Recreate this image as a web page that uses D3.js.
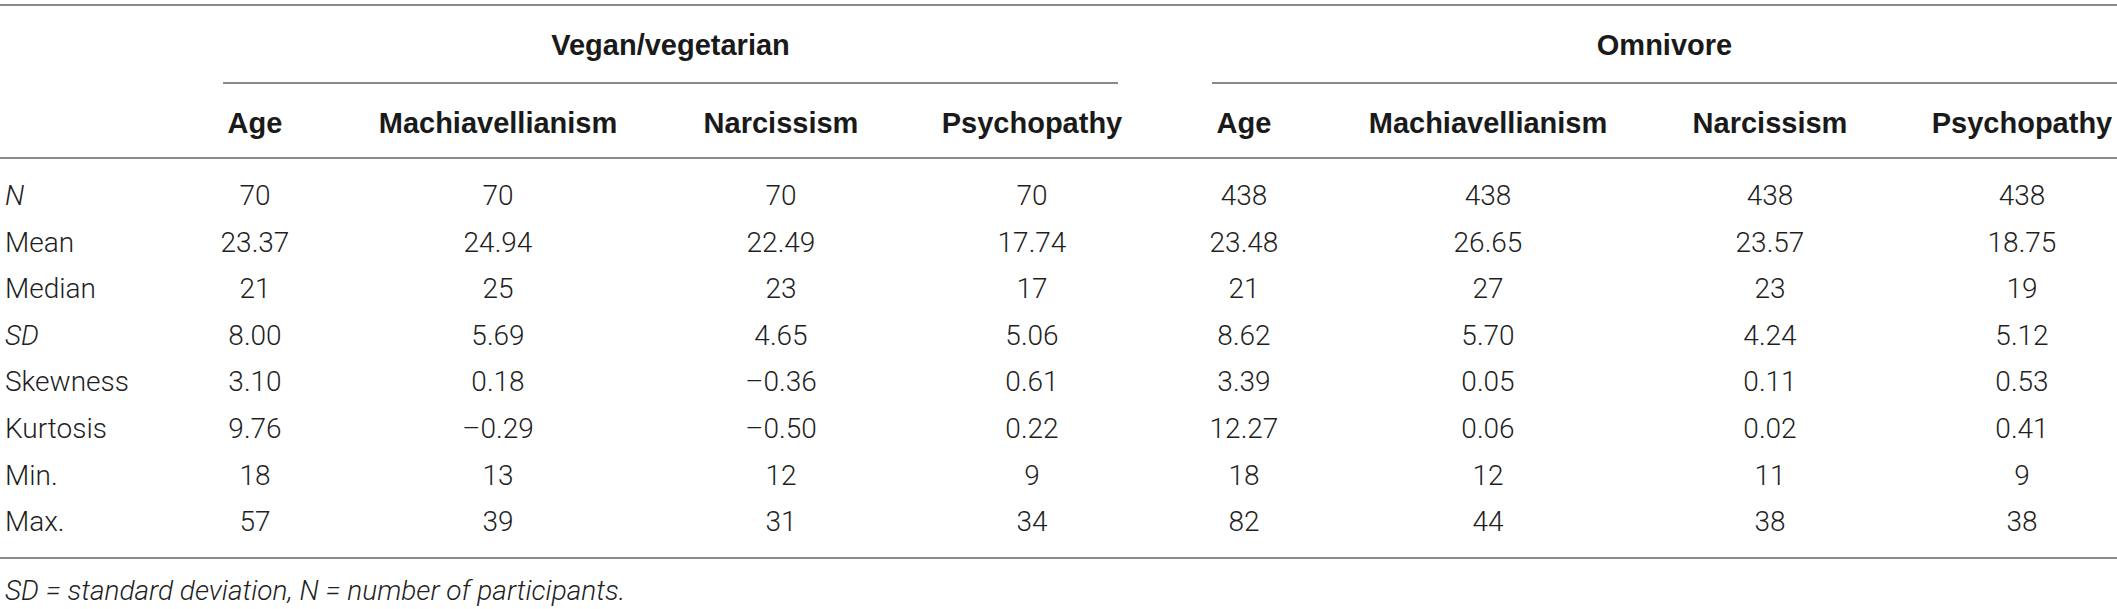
<!DOCTYPE html>
<html>
<head>
<meta charset="utf-8">
<script src="https://cdn.jsdelivr.net/npm/d3@7"></script>
<style>
  html, body { margin: 0; padding: 0; background: #fff; }
  svg { display: block; }
</style>
</head>
<body>
<svg width="2117" height="609"></svg>
<script>
// table content
const groups = ['Vegan/vegetarian', 'Omnivore'];
const measures = ['Age', 'Machiavellianism', 'Narcissism', 'Psychopathy'];
const rowLabels = ['N', 'Mean', 'Median', 'SD', 'Skewness', 'Kurtosis', 'Min.', 'Max.'];
const italicLabels = ['N', 'SD'];

const veganValues = [
  ['70', '70', '70', '70'],
  ['23.37', '24.94', '22.49', '17.74'],
  ['21', '25', '23', '17'],
  ['8.00', '5.69', '4.65', '5.06'],
  ['3.10', '0.18', '–0.36', '0.61'],
  ['9.76', '–0.29', '–0.50', '0.22'],
  ['18', '13', '12', '9'],
  ['57', '39', '31', '34']
];
const omnivoreValues = [
  ['438', '438', '438', '438'],
  ['23.48', '26.65', '23.57', '18.75'],
  ['21', '27', '23', '19'],
  ['8.62', '5.70', '4.24', '5.12'],
  ['3.39', '0.05', '0.11', '0.53'],
  ['12.27', '0.06', '0.02', '0.41'],
  ['18', '12', '11', '9'],
  ['82', '44', '38', '38']
];
const footnote = [
  { t: 'SD', i: true }, { t: ' = standard deviation, ', i: true },
  { t: 'N', i: true }, { t: ' = number of participants.', i: true }
];

const svg = d3.select('svg');
const width = 2117;

const bodyFont = "'Roboto', 'Liberation Sans', sans-serif";
const headFont = "'Liberation Sans', Arial, sans-serif";
const fontSize = 28;
const headSize = 29;
const lineColor = '#8a8a8a';

// column keys: group|measure
const columns = [];
groups.forEach(g => measures.forEach(m => columns.push(g + '|' + m)));

// column centres (layout)
const x = d3.scaleOrdinal()
  .domain(columns)
  .range([255, 498, 781, 1032, 1244, 1488, 1770, 2022]);

// row centres
const y = d3.scalePoint()
  .domain(rowLabels)
  .range([195, 521]);

// group span under the group titles
const groupSpan = {
  'Vegan/vegetarian': [223, 1118],
  'Omnivore': [1212, width]
};

const hline = (x1, x2, yy) => svg.append('line')
  .attr('x1', x1).attr('x2', x2)
  .attr('y1', yy).attr('y2', yy)
  .attr('stroke', lineColor)
  .attr('stroke-width', 2);

// rules
hline(0, width, 5);
groups.forEach(g => hline(groupSpan[g][0], groupSpan[g][1], 83));
hline(0, width, 158);
hline(0, width, 558);

// group titles
svg.selectAll('text.group').data(groups)
  .enter().append('text')
  .attr('class', 'group')
  .attr('x', g => (groupSpan[g][0] + groupSpan[g][1]) / 2)
  .attr('y', 45)
  .attr('dy', '0.36em')
  .attr('text-anchor', 'middle')
  .attr('font-family', headFont)
  .attr('font-weight', 'bold')
  .attr('font-size', headSize)
  .attr('fill', '#1a1a1a')
  .text(g => g);

// column headers
svg.selectAll('text.colhead').data(columns)
  .enter().append('text')
  .attr('class', 'colhead')
  .attr('x', c => x(c))
  .attr('y', 123)
  .attr('dy', '0.36em')
  .attr('text-anchor', 'middle')
  .attr('font-family', headFont)
  .attr('font-weight', 'bold')
  .attr('font-size', headSize)
  .attr('fill', '#1a1a1a')
  .text(c => c.split('|')[1]);

// row labels
svg.selectAll('text.rowlabel').data(rowLabels)
  .enter().append('text')
  .attr('class', 'rowlabel')
  .attr('x', 5)
  .attr('y', r => y(r))
  .attr('dy', '0.36em')
  .attr('font-family', bodyFont)
  .attr('font-weight', 300)
  .attr('font-style', r => italicLabels.includes(r) ? 'italic' : 'normal')
  .attr('font-size', fontSize)
  .attr('fill', '#1f1f1f')
  .text(r => r);

// cells
const cells = [];
rowLabels.forEach((r, i) => {
  measures.forEach((m, j) => {
    cells.push({ row: r, col: groups[0] + '|' + m, v: veganValues[i][j] });
    cells.push({ row: r, col: groups[1] + '|' + m, v: omnivoreValues[i][j] });
  });
});

svg.selectAll('text.cell').data(cells)
  .enter().append('text')
  .attr('class', 'cell')
  .attr('x', d => x(d.col))
  .attr('y', d => y(d.row))
  .attr('dy', '0.36em')
  .attr('text-anchor', 'middle')
  .attr('font-family', bodyFont)
  .attr('font-weight', 300)
  .attr('font-size', fontSize)
  .attr('fill', '#1f1f1f')
  .text(d => d.v);

// footnote
const foot = svg.append('text')
  .attr('x', 5)
  .attr('y', 590)
  .attr('dy', '0.36em')
  .attr('font-family', bodyFont)
  .attr('font-weight', 300)
  .attr('font-size', fontSize)
  .attr('fill', '#1f1f1f');
foot.selectAll('tspan').data(footnote)
  .enter().append('tspan')
  .attr('font-style', d => d.i ? 'italic' : 'normal')
  .text(d => d.t);
</script>
</body>
</html>
